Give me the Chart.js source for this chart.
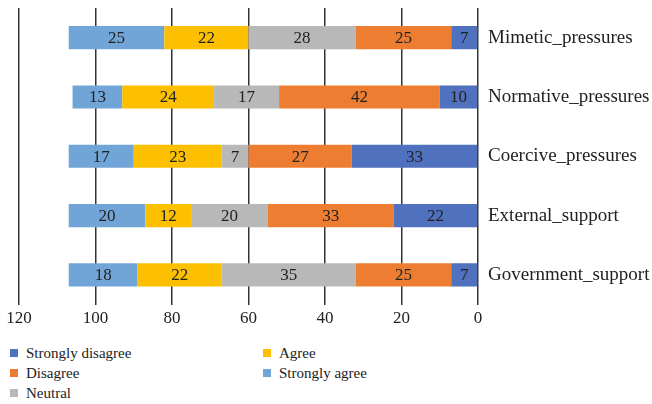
<!DOCTYPE html>
<html>
<head>
<meta charset="utf-8">
<script src="https://cdn.jsdelivr.net/npm/chart.js@4/dist/chart.umd.min.js"></script>
<style>
  body { margin: 0; background: #fff; }
  #wrap { position: relative; width: 652px; height: 404px; font-family: "Liberation Serif", "DejaVu Serif", serif; }
  #legend { position: absolute; left: 10px; top: 343px; width: 640px; color: #222; font-size: 15px; }
  .item { position: absolute; white-space: nowrap; line-height: 20px; }
  .sw { display: inline-block; width: 8px; height: 8px; margin-right: 8px; vertical-align: 1px; }
</style>
</head>
<body>
<div id="wrap">
  <canvas id="myChart" width="652" height="333"></canvas>
  <div id="legend"></div>
</div>
<script>
// Kategorien (von oben nach unten)
const kategorien = ['Mimetic_pressures', 'Normative_pressures', 'Coercive_pressures', 'External_support', 'Government_support'];

// Werte pro Antwort
const stronglyDisagree = [7, 10, 33, 22, 7];
const disagree = [25, 42, 27, 33, 25];
const neutral = [28, 17, 7, 20, 35];
const agree = [22, 24, 23, 12, 22];
const stronglyAgree = [25, 13, 17, 20, 18];

const xTicks = [0, 20, 40, 60, 80, 100, 120];

const serien = [
  { label: 'Strongly disagree', data: stronglyDisagree, color: '#4f71be' },
  { label: 'Disagree', data: disagree, color: '#ed7d31' },
  { label: 'Neutral', data: neutral, color: '#b8b8b8' },
  { label: 'Agree', data: agree, color: '#fdc000' },
  { label: 'Strongly agree', data: stronglyAgree, color: '#72a5d7' }
];

// Zahlen in die Balken schreiben
const segmentLabels = {
  id: 'segmentLabels',
  afterDatasetsDraw(chart) {
    const ctx = chart.ctx;
    ctx.save();
    ctx.font = '17px "Liberation Serif", serif';
    ctx.fillStyle = '#222';
    ctx.textAlign = 'center';
    ctx.textBaseline = 'middle';
    chart.data.datasets.forEach((ds, i) => {
      chart.getDatasetMeta(i).data.forEach((bar, j) => {
        const p = bar.getProps(['x', 'y', 'base'], true);
        ctx.fillText(ds.data[j], (p.x + p.base) / 2, p.y + 1);
      });
    });
    ctx.restore();
  }
};

const ctx = document.getElementById('myChart');

const chart = new Chart(ctx, {
  type: 'bar',
  data: {
    labels: kategorien,
    datasets: serien.map(s => ({
      label: s.label,
      data: s.data,
      backgroundColor: s.color,
      borderWidth: 0,
      barPercentage: 0.39,
      categoryPercentage: 1
    }))
  },
  options: {
    indexAxis: 'y',
    responsive: false,
    animation: false,
    layout: { padding: { top: 8, left: 19, right: 0, bottom: 0 } },
    plugins: { legend: { display: false }, tooltip: { enabled: false } },
    scales: {
      x: {
        stacked: true,
        reverse: true,
        min: 0,
        max: 120,
        afterBuildTicks: axis => { axis.ticks = xTicks.map(v => ({ value: v })); },
        grid: { color: '#333', lineWidth: 1.5, drawTicks: false },
        border: { display: false },
        ticks: { color: '#222', padding: 4, font: { family: '"Liberation Serif", serif', size: 17 } }
      },
      y: {
        stacked: true,
        position: 'right',
        grid: { display: false, drawTicks: false },
        border: { display: false },
        afterFit: axis => { axis.width = 174; axis.paddingTop = 0; axis.paddingBottom = 0; },
        ticks: { color: '#222', padding: 10, font: { family: '"Liberation Serif", serif', size: 19 } }
      }
    }
  },
  plugins: [segmentLabels]
});

// Legende in zwei Spalten
const legend = document.getElementById('legend');
const spalten = [[0, 1, 2], [3, 4]];
spalten.forEach((spalte, c) => {
  spalte.forEach((idx, r) => {
    const s = serien[idx];
    const el = document.createElement('div');
    el.className = 'item';
    el.style.left = (c * 253) + 'px';
    el.style.top = (r * 20) + 'px';
    el.innerHTML = '<span class="sw" style="background:' + s.color + '"></span>' + s.label;
    legend.appendChild(el);
  });
});
</script>
</body>
</html>
